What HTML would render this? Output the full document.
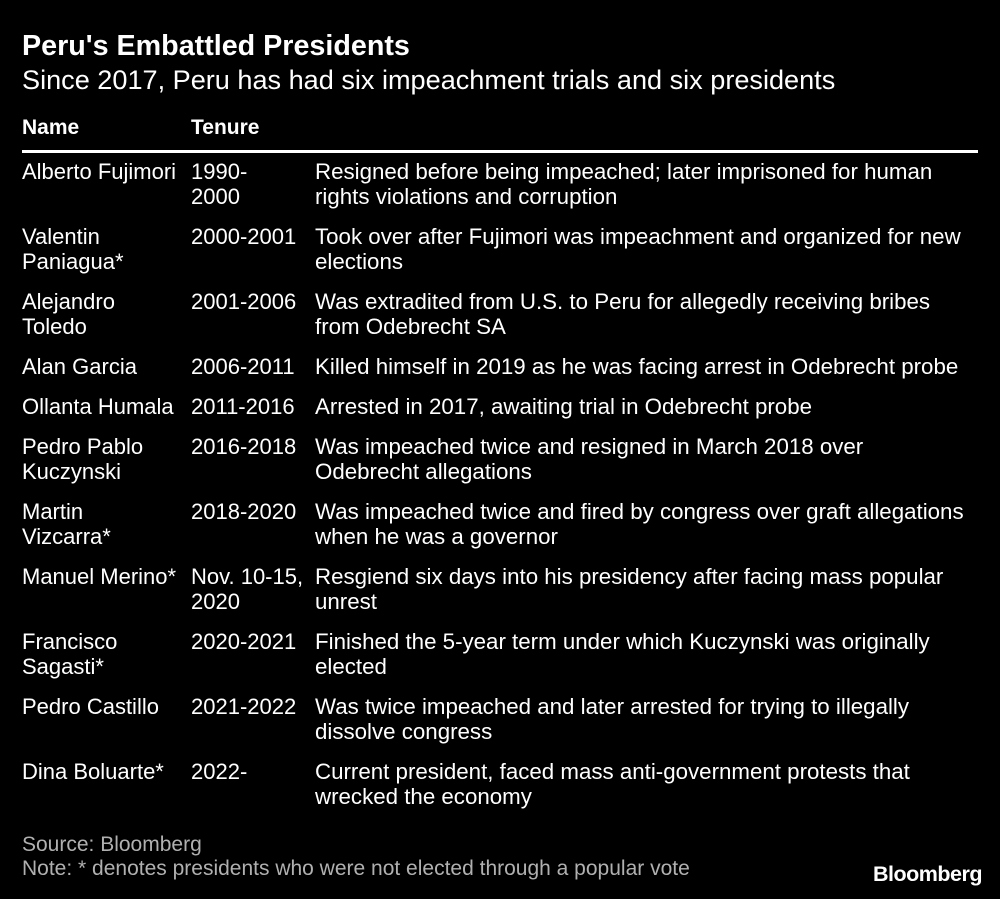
<!DOCTYPE html>
<html><head><meta charset="utf-8"><style>
body{margin:0;background:#000;width:1000px;height:899px;overflow:hidden;position:relative;font-family:"Liberation Sans",sans-serif;color:#fff}
.a{position:absolute;white-space:nowrap}
.c{position:absolute;font-size:22px;line-height:24.5px;white-space:nowrap}
</style></head><body>
<div class="a" style="left:22px;top:30px;font-size:28.7px;font-weight:bold;">Peru's Embattled Presidents</div>
<div class="a" style="left:22px;top:64px;font-size:27.1px;">Since 2017, Peru has had six impeachment trials and six presidents</div>
<div class="a" style="left:22px;top:116px;font-size:21px;font-weight:bold;">Name</div>
<div class="a" style="left:191px;top:116px;font-size:21px;font-weight:bold;">Tenure</div>
<div class="a" style="left:22px;top:150px;width:956px;height:3px;background:#fff;"></div>
<div id="rows"></div>
<div class="a" style="left:22px;top:833px;font-size:21px;color:#b0b0b0;">Source: Bloomberg</div>
<div class="a" style="left:22px;top:857px;font-size:21px;color:#b0b0b0;">Note: * denotes presidents who were not elected through a popular vote</div>
<div class="a" style="right:18px;top:862px;font-size:21.5px;font-weight:bold;letter-spacing:-0.5px;">Bloomberg</div>
<script>
const names=["Alberto Fujimori","Valentin<br>Paniagua*","Alejandro<br>Toledo","Alan Garcia","Ollanta Humala","Pedro Pablo<br>Kuczynski","Martin<br>Vizcarra*","Manuel Merino*","Francisco<br>Sagasti*","Pedro Castillo","Dina Boluarte*"];
const tenures=["1990-<br>2000","2000-2001","2001-2006","2006-2011","2011-2016","2016-2018","2018-2020","Nov. 10-15,<br>2020","2020-2021","2021-2022","2022-"];
const notes=["Resigned before being impeached; later imprisoned for human<br>rights violations and corruption","Took over after Fujimori was impeachment and organized for new<br>elections","Was extradited from U.S. to Peru for allegedly receiving bribes<br>from Odebrecht SA","Killed himself in 2019 as he was facing arrest in Odebrecht probe","Arrested in 2017, awaiting trial in Odebrecht probe","Was impeached twice and resigned in March 2018 over<br>Odebrecht allegations","Was impeached twice and fired by congress over graft allegations<br>when he was a governor","Resgiend six days into his presidency after facing mass popular<br>unrest","Finished the 5-year term under which Kuczynski was originally<br>elected","Was twice impeached and later arrested for trying to illegally<br>dissolve congress","Current president, faced mass anti-government protests that<br>wrecked the economy"];
const rows=document.getElementById('rows');
let y=160;
for(let i=0;i<names.length;i++){
  const cells=[[22,names[i],'cell-name',22],[191,tenures[i],'cell-tenure',22],[315,notes[i],'cell-note',22.3]];
  let two=false;
  cells.forEach(([x,t,n,fs])=>{
    const d=document.createElement('div');
    d.className='c';d.style.left=x+'px';d.style.top=y+'px';d.style.fontSize=fs+'px';d.innerHTML=t;
    
    
    if(t.includes('<br>'))two=true;
    rows.appendChild(d);
  });
  y+=two?65:40;
}
</script>
</body></html>
